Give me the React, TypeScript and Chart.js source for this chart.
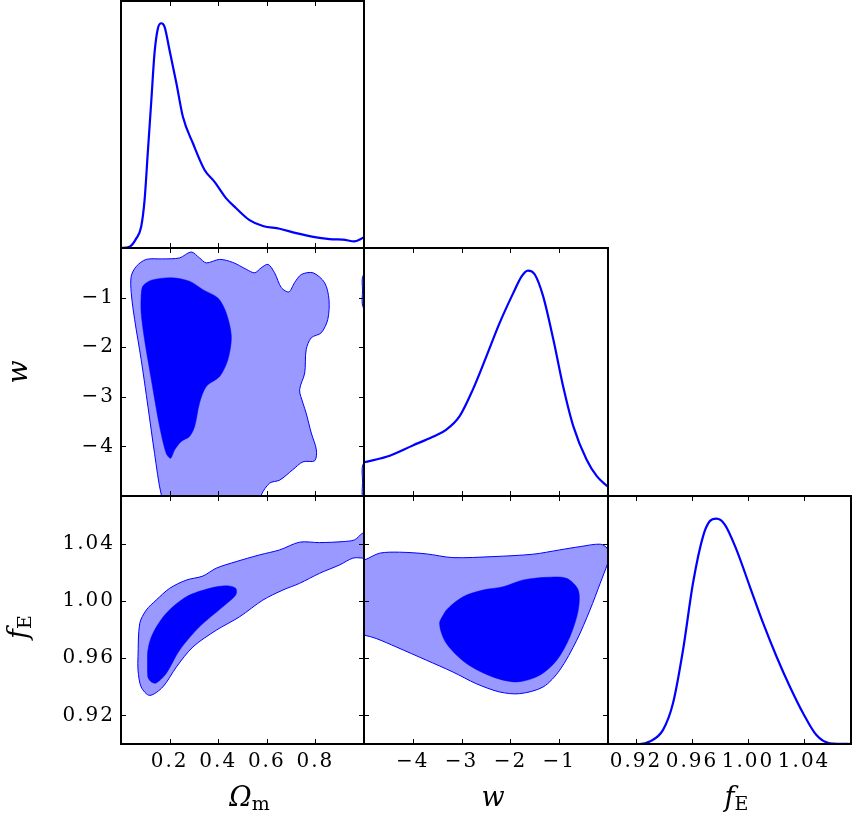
import React, { useEffect, useRef } from "react";
import { Chart, registerables } from "chart.js";

Chart.register(...registerables);

const FONT = "'DejaVu Serif', serif";
const BLUE = "#0000ff";
const LIGHT = "#9999ff";

// axis ranges and tick values
const omRange = [0, 1];
const wRange = [-5, 0];
const fRange = [0.9, 1.0735];
const omTicks = [0.2, 0.4, 0.6, 0.8];
const wTicks = [-4, -3, -2, -1];
const fTicks = [0.92, 0.96, 1.0, 1.04];

// 1D marginal of Omega_m
const omMargX = [0, 0.035, 0.063, 0.083, 0.097, 0.111, 0.125, 0.138, 0.152, 0.166, 0.179, 0.2, 0.228, 0.255, 0.296, 0.344, 0.385, 0.433, 0.474, 0.529, 0.584, 0.653, 0.721, 0.804, 0.872, 0.913, 0.961, 1.0];
const omMargP = [0, 0.005, 0.039, 0.086, 0.194, 0.397, 0.6, 0.79, 0.89, 0.91, 0.896, 0.8, 0.667, 0.53, 0.424, 0.316, 0.268, 0.201, 0.161, 0.113, 0.089, 0.078, 0.06, 0.043, 0.035, 0.034, 0.027, 0.043];

// 1D marginal of w
const wMargX = [-5, -4.54, -4.0, -3.59, -3.31, -3.04, -2.77, -2.49, -2.22, -1.94, -1.77, -1.64, -1.5, -1.33, -1.12, -0.92, -0.71, -0.44, -0.23, 0];
const wMargP = [0.136, 0.158, 0.204, 0.239, 0.268, 0.322, 0.429, 0.564, 0.698, 0.819, 0.886, 0.909, 0.893, 0.806, 0.631, 0.443, 0.281, 0.147, 0.08, 0.037];

// 1D marginal of f_E
const fMargX = [0.9, 0.9226, 0.9298, 0.9393, 0.9464, 0.9536, 0.9607, 0.9679, 0.9726, 0.9774, 0.9834, 0.9917, 1.0012, 1.0107, 1.0203, 1.0298, 1.0393, 1.0488, 1.0584, 1.0735];
const fMargP = [0, 0, 0.01, 0.057, 0.164, 0.38, 0.649, 0.838, 0.898, 0.909, 0.885, 0.784, 0.636, 0.488, 0.353, 0.232, 0.124, 0.036, 0.003, 0];

// Omega_m vs w contours
const omW95X = [0.2, 0.166, 0.138, 0.111, 0.083, 0.056, 0.042, 0.042, 0.063, 0.104, 0.172, 0.241, 0.289, 0.323, 0.351, 0.406, 0.46, 0.516, 0.55, 0.577, 0.605, 0.632, 0.66, 0.691, 0.714, 0.742, 0.79, 0.838, 0.856, 0.851, 0.824, 0.783, 0.762, 0.756, 0.735, 0.749, 0.762, 0.783, 0.804, 0.797, 0.749, 0.707, 0.653, 0.612, 0.577, 0.55];
const omW95Y = [-5.4, -4.98, -4.14, -3.2, -2.25, -1.44, -0.9, -0.57, -0.37, -0.23, -0.22, -0.2, -0.08, -0.2, -0.3, -0.23, -0.29, -0.43, -0.5, -0.4, -0.33, -0.5, -0.8, -0.885, -0.7, -0.535, -0.5, -0.7, -1.04, -1.44, -1.71, -1.81, -2.05, -2.52, -2.86, -3.13, -3.33, -3.73, -4.07, -4.29, -4.31, -4.47, -4.68, -4.74, -4.98, -5.4];
const omW68X = [0.083, 0.09, 0.125, 0.207, 0.282, 0.337, 0.399, 0.433, 0.454, 0.44, 0.406, 0.351, 0.323, 0.303, 0.282, 0.248, 0.221, 0.204, 0.186, 0.159, 0.125, 0.097, 0.083];
const omW68Y = [-0.97, -0.77, -0.65, -0.6, -0.67, -0.84, -1.01, -1.31, -1.78, -2.25, -2.59, -2.79, -3.13, -3.6, -3.8, -3.9, -4.07, -4.24, -4.14, -3.6, -2.66, -1.85, -1.31];
const omWEdgeAX = [1.05, 0.997, 0.994, 0.997, 1.05];
const omWEdgeAY = [-0.4, -0.55, -0.85, -1.2, -1.35];
const omWEdgeBX = [1.05, 0.997, 0.994, 0.998, 1.05];
const omWEdgeBY = [-4.2, -4.35, -4.7, -5.1, -5.2];

// Omega_m vs f_E contours
const omF95X = [1.05, 0.995, 0.961, 0.913, 0.817, 0.735, 0.653, 0.57, 0.474, 0.392, 0.337, 0.269, 0.2, 0.145, 0.104, 0.077, 0.07, 0.07, 0.083, 0.118, 0.172, 0.228, 0.296, 0.392, 0.488, 0.584, 0.666, 0.735, 0.817, 0.9, 0.954, 0.995, 1.05];
const omF95Y = [1.05, 1.0475, 1.0428, 1.0416, 1.0409, 1.0412, 1.0358, 1.0323, 1.0276, 1.023, 1.0175, 1.0147, 1.0089, 1.0007, 0.9937, 0.9843, 0.961, 0.9516, 0.9399, 0.934, 0.9399, 0.9539, 0.9679, 0.9796, 0.989, 1.0007, 1.0077, 1.0124, 1.0194, 1.0253, 1.03, 1.03, 1.028];
const omF68X = [0.111, 0.111, 0.131, 0.186, 0.269, 0.365, 0.433, 0.472, 0.472, 0.419, 0.323, 0.241, 0.186, 0.145, 0.125];
const omF68Y = [0.9469, 0.9656, 0.9773, 0.9914, 1.003, 1.0089, 1.0107, 1.0089, 1.0042, 0.996, 0.982, 0.9656, 0.9493, 0.9427, 0.9434];

// w vs f_E contours
const wF95X = [-5.2, -4.99, -4.68, -4.27, -3.72, -3.18, -2.36, -1.53, -0.99, -0.57, -0.16, -0.02, 0.02, -0.01, -0.16, -0.37, -0.64, -0.99, -1.33, -1.81, -2.22, -2.7, -3.18, -3.72, -4.34, -4.75, -4.99, -5.2];
const wF95Y = [1.028, 1.0288, 1.0335, 1.0342, 1.033, 1.0304, 1.0311, 1.0328, 1.0358, 1.0381, 1.0398, 1.037, 1.03, 1.026, 1.0124, 0.9937, 0.9726, 0.9516, 0.9399, 0.9352, 0.9364, 0.9422, 0.9504, 0.9586, 0.9679, 0.9738, 0.9761, 0.977];
const wF68X = [-3.45, -3.31, -2.97, -2.56, -2.15, -1.74, -1.26, -0.85, -0.61, -0.61, -0.78, -1.05, -1.4, -1.87, -2.36, -2.9, -3.31];
const wF68Y = [0.9843, 0.9937, 1.003, 1.0077, 1.01, 1.0147, 1.0166, 1.0159, 1.0077, 0.9937, 0.975, 0.9586, 0.9481, 0.9434, 0.9469, 0.9563, 0.9703];

// layout of the grid (page pixels)
const COLS = [[121, 364], [364, 608], [608, 851]];
const ROWS = [[1, 248], [248, 496], [496, 744]];
const PAGE_H = 821;
const M = 4;

type Run = { text: string; italic?: boolean; size: number; dy?: number };
type AxisSpec = { min: number; max: number; ticks: number[]; fmt: (v: number) => string };

const omAxis: AxisSpec = { min: omRange[0], max: omRange[1], ticks: omTicks, fmt: (v) => v.toFixed(1) };
const wAxis: AxisSpec = { min: wRange[0], max: wRange[1], ticks: wTicks, fmt: (v) => (v < 0 ? "\u2212" + Math.abs(v) : String(v)) };
const fAxis: AxisSpec = { min: fRange[0], max: fRange[1], ticks: fTicks, fmt: (v) => v.toFixed(2) };
const pAxis: AxisSpec = { min: 0, max: 1, ticks: [], fmt: (v) => String(v) };

const omTitle: Run[] = [{ text: "\u03A9", italic: true, size: 27 }, { text: "m", size: 19, dy: 4 }];
const wTitle: Run[] = [{ text: "w", italic: true, size: 27 }];
const fTitle: Run[] = [{ text: "f", italic: true, size: 27 }, { text: "E", size: 19, dy: 4 }];

const pts = (xs: number[], ys: number[]) => xs.map((x, i) => ({ x, y: ys[i] }));
const closed = (xs: number[], ys: number[]) => {
  const p = pts(xs, ys);
  return [...p, p[0], p[1]];
};

const curve = (xs: number[], ys: number[]) => ({
  data: pts(xs, ys),
  borderColor: BLUE,
  borderWidth: 2.2,
  pointRadius: 0,
  fill: false,
  cubicInterpolationMode: "monotone",
});
// datasets listed first are drawn on top by Chart.js
const region = (xs: number[], ys: number[], color: string, lw: number) => ({
  data: closed(xs, ys),
  borderColor: BLUE,
  borderWidth: lw,
  backgroundColor: color,
  pointRadius: 0,
  fill: "shape",
  tension: 0.3,
  clip: 0,
});

type PanelSpec = {
  r: number;
  c: number;
  x: AxisSpec;
  y: AxisSpec;
  showXLabels: boolean;
  showYLabels: boolean;
  yTickMarks: boolean;
  datasets: any[];
  bottomTitle?: Run[];
  leftTitle?: Run[];
  leftTitleShift?: number;
};

const PANELS: PanelSpec[] = [
  { r: 0, c: 0, x: omAxis, y: pAxis, showXLabels: false, showYLabels: false, yTickMarks: false, datasets: [curve(omMargX, omMargP)] },
  {
    r: 1, c: 0, x: omAxis, y: wAxis, showXLabels: false, showYLabels: true, yTickMarks: true,
    datasets: [region(omW68X, omW68Y, BLUE, 0.5), region(omW95X, omW95Y, LIGHT, 1), region(omWEdgeAX, omWEdgeAY, LIGHT, 1), region(omWEdgeBX, omWEdgeBY, LIGHT, 1)],
    leftTitle: wTitle, leftTitleShift: 0,
  },
  { r: 1, c: 1, x: wAxis, y: pAxis, showXLabels: false, showYLabels: false, yTickMarks: false, datasets: [curve(wMargX, wMargP)] },
  {
    r: 2, c: 0, x: omAxis, y: fAxis, showXLabels: true, showYLabels: true, yTickMarks: true,
    datasets: [region(omF68X, omF68Y, BLUE, 0.5), region(omF95X, omF95Y, LIGHT, 1)],
    bottomTitle: omTitle, leftTitle: fTitle, leftTitleShift: 7,
  },
  {
    r: 2, c: 1, x: wAxis, y: fAxis, showXLabels: true, showYLabels: false, yTickMarks: true,
    datasets: [region(wF68X, wF68Y, BLUE, 0.5), region(wF95X, wF95Y, LIGHT, 1)],
    bottomTitle: wTitle,
  },
  { r: 2, c: 2, x: fAxis, y: pAxis, showXLabels: true, showYLabels: false, yTickMarks: false, datasets: [curve(fMargX, fMargP)], bottomTitle: fTitle },
];

function runFont(r: Run) {
  return `${r.italic ? "italic " : ""}${r.size}px ${FONT}`;
}

function drawRuns(ctx: CanvasRenderingContext2D, runs: Run[], cx: number, baseline: number) {
  const widths = runs.map((r) => {
    ctx.font = runFont(r);
    return ctx.measureText(r.text).width;
  });
  const total = widths.reduce((a, b) => a + b, 0);
  let x = cx - total / 2;
  ctx.textAlign = "left";
  ctx.textBaseline = "alphabetic";
  runs.forEach((r, i) => {
    ctx.font = runFont(r);
    ctx.fillText(r.text, x, baseline + (r.dy || 0));
    x += widths[i];
  });
}

function geometry(p: PanelSpec) {
  const [cl, cr] = COLS[p.c];
  const [rt, rb] = ROWS[p.r];
  const padL = p.c === 0 ? cl : M;
  const padT = p.r === 0 ? rt : M;
  const padR = M;
  const padB = p.r === 2 ? PAGE_H - rb : M;
  return {
    left: cl - padL,
    top: rt - padT,
    width: padL + (cr - cl) + padR,
    height: padT + (rb - rt) + padB,
    padL, padT, padR, padB,
  };
}

function Panel({ spec }: { spec: PanelSpec }) {
  const ref = useRef<HTMLCanvasElement>(null);
  const g = geometry(spec);
  useEffect(() => {
    if (!ref.current) return;
    const framePlugin = {
      id: "frameTicks",
      beforeDraw(chart: any) {
        (chart.ctx as any).letterSpacing = "2px";
      },
      afterDatasetsDraw(chart: any) {
        const { ctx, chartArea: a, scales } = chart;
        ctx.save();
        ctx.letterSpacing = "0px";
        ctx.strokeStyle = "#000";
        ctx.lineWidth = 1;
        ctx.beginPath();
        for (const v of spec.x.ticks) {
          const px = Math.round(scales.x.getPixelForValue(v)) + 0.5;
          ctx.moveTo(px, a.top);
          ctx.lineTo(px, a.top + 5);
          ctx.moveTo(px, a.bottom);
          ctx.lineTo(px, a.bottom - 5);
        }
        if (spec.yTickMarks) {
          for (const v of spec.y.ticks) {
            const py = Math.round(scales.y.getPixelForValue(v)) + 0.5;
            ctx.moveTo(a.left, py);
            ctx.lineTo(a.left + 5, py);
            ctx.moveTo(a.right, py);
            ctx.lineTo(a.right - 5, py);
          }
        }
        ctx.stroke();
        ctx.lineWidth = 2;
        ctx.strokeRect(a.left, a.top, a.right - a.left, a.bottom - a.top);
        ctx.fillStyle = "#000";
        if (spec.bottomTitle) {
          drawRuns(ctx, spec.bottomTitle, (a.left + a.right) / 2 + 7, a.bottom + 62);
        }
        if (spec.leftTitle) {
          ctx.translate(a.left - 94, (a.top + a.bottom) / 2 + (spec.leftTitleShift || 0));
          ctx.rotate(-Math.PI / 2);
          drawRuns(ctx, spec.leftTitle, 0, 0);
        }
        ctx.restore();
      },
    };
    const tickFont = { family: FONT, size: 20 };
    const chart = new Chart(ref.current, {
      type: "line",
      data: { datasets: spec.datasets as any },
      options: {
        responsive: false,
        animation: false,
        devicePixelRatio: 1,
        events: [],
        layout: {
          padding: {
            left: spec.showYLabels ? 0 : g.padL,
            right: g.padR,
            top: g.padT,
            bottom: spec.showXLabels ? 0 : g.padB,
          },
        },
        plugins: { legend: { display: false }, tooltip: { enabled: false }, title: { display: false } },
        scales: {
          x: {
            type: "linear",
            min: spec.x.min,
            max: spec.x.max,
            grid: { display: false, drawTicks: false },
            border: { display: false },
            ticks: {
              display: spec.showXLabels,
              font: tickFont,
              color: "#000",
              padding: 6,
              maxRotation: 0,
              autoSkip: false,
              callback: (v: any) => spec.x.fmt(Number(v)),
            },
            afterBuildTicks: (s: any) => {
              s.ticks = spec.x.ticks.map((v) => ({ value: v }));
            },
            afterFit: (s: any) => {
              s.height = spec.showXLabels ? g.padB : 0;
              s.paddingLeft = 0;
              s.paddingRight = 0;
              s.paddingTop = 0;
              s.paddingBottom = 0;
            },
          },
          y: {
            type: "linear",
            min: spec.y.min,
            max: spec.y.max,
            grid: { display: false, drawTicks: false },
            border: { display: false },
            ticks: {
              display: spec.showYLabels,
              font: tickFont,
              color: "#000",
              padding: 6,
              autoSkip: false,
              callback: (v: any) => spec.y.fmt(Number(v)),
            },
            afterBuildTicks: (s: any) => {
              s.ticks = spec.y.ticks.map((v) => ({ value: v }));
            },
            afterFit: (s: any) => {
              s.width = spec.showYLabels ? g.padL : 0;
              s.paddingLeft = 0;
              s.paddingRight = 0;
              s.paddingTop = 0;
              s.paddingBottom = 0;
            },
          },
        },
      } as any,
      plugins: [framePlugin],
    });
    return () => chart.destroy();
  }, []);
  return (
    <canvas
      ref={ref}
      width={g.width}
      height={g.height}
      style={{ position: "absolute", left: g.left, top: g.top, width: g.width, height: g.height }}
    />
  );
}

export default function App() {
  return (
    <div style={{ position: "absolute", left: 0, top: 0, width: 855, height: 821, background: "#fff" }}>
      {PANELS.map((p, i) => (
        <Panel key={i} spec={p} />
      ))}
    </div>
  );
}
